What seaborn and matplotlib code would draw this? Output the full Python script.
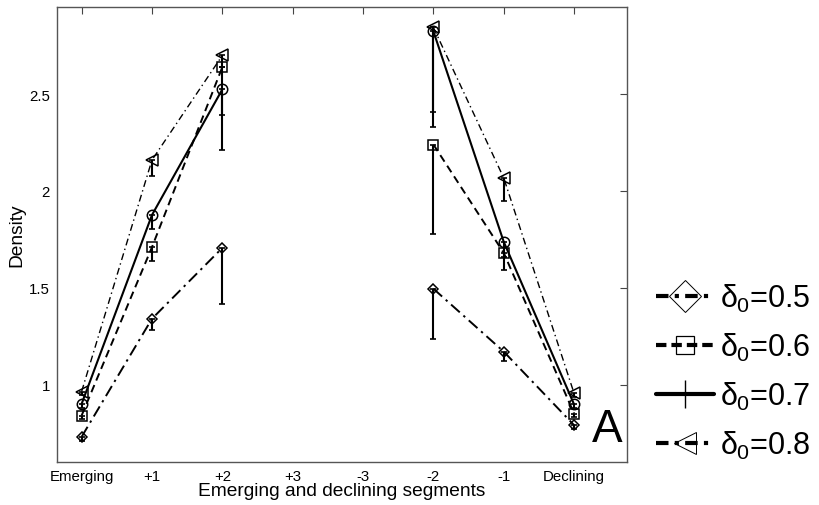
import numpy as np
import pandas as pd
import matplotlib
matplotlib.use('Agg')
import matplotlib.pyplot as plt
from matplotlib.lines import Line2D
import seaborn as sns

# data
tick_labels = ['Emerging', '+1', '+2', '+3', '-3', '-2', '-1', 'Declining']
positions = [0, 1, 2, 5, 6, 7]
segments = ['emerging', 'emerging', 'emerging', 'declining', 'declining', 'declining']

d05 = [0.73, 1.34, 1.706, 1.495, 1.17, 0.79]
d05_err = [0.02, 0.06, 0.29, 0.26, 0.05, 0.02]
d06 = [0.84, 1.71, 2.64, 2.24, 1.68, 0.85]
d06_err = [0.02, 0.07, 0.25, 0.46, 0.09, 0.02]
d07 = [0.90, 1.876, 2.525, 2.825, 1.737, 0.897]
d07_err = [0.02, 0.07, 0.315, 0.495, 0.08, 0.02]
d08 = [0.964, 2.16, 2.70, 2.845, 2.067, 0.954]
d08_err = [0.02, 0.08, 0.06, 0.435, 0.12, 0.02]

series_names = ['0.5', '0.6', '0.7', '0.8']
values = [d05, d06, d07, d08]
errors = [d05_err, d06_err, d07_err, d08_err]

sns.set_theme(style='white')
plt.rcParams['font.family'] = ['Liberation Sans', 'DejaVu Sans']
plt.rcParams['mathtext.fontset'] = 'custom'
plt.rcParams['mathtext.rm'] = 'Liberation Sans'
plt.rcParams['mathtext.it'] = 'Liberation Sans'
for k in ['text.color', 'axes.labelcolor', 'xtick.color', 'ytick.color']:
    plt.rcParams[k] = 'black'

#1 build a long table
rows = []
for name, vals in zip(series_names, values):
    for p, s, v in zip(positions, segments, vals):
        rows.append({'delta': name, 'pos': p, 'segment': s, 'density': v})
df = pd.DataFrame(rows)

styles = {
    '0.5': dict(ls=(0, (6, 2.5, 1.2, 2.5)), lw=1.4, marker='D', ms=5.5),
    '0.6': dict(ls=(0, (4, 2.5)), lw=1.4, marker='s', ms=7),
    '0.7': dict(ls='-', lw=1.5, marker='o', ms=7.5),
    '0.8': dict(ls=(0, (5, 2.5, 1, 2.5)), lw=1.0, marker='<', ms=8),
}

fig = plt.figure(figsize=(8.2, 5.06), dpi=100)
ax = fig.add_axes([0.0695, 0.085, 0.695, 0.899])

#2 lines and markers
for name, err in zip(series_names, errors):
    st = styles[name]
    sub = df[df['delta'] == name]
    sns.lineplot(data=sub, x='pos', y='density', units='segment', estimator=None,
                 color='black', linestyle=st['ls'], linewidth=st['lw'],
                 marker=st['marker'], markersize=st['ms'], markerfacecolor='none',
                 markeredgecolor='black', markeredgewidth=1.1, ax=ax, legend=False)
    ax.errorbar(sub['pos'], sub['density'], yerr=[err, np.zeros(len(err))],
                fmt='none', ecolor='black', elinewidth=1.5, capsize=2, capthick=1.2)

ax.set_xlim(-0.35, 7.75)
ax.set_ylim(0.6, 2.95)
ax.set_xticks(range(len(tick_labels)))
ax.set_xticklabels(tick_labels)
ax.set_yticks([1, 1.5, 2, 2.5])
ax.set_yticklabels(['1', '1.5', '2', '2.5'])
ax.tick_params(direction='in', length=5, width=0.8, color='#444444', labelsize=10.8,
               top=True, right=True, pad=5)
for sp in ax.spines.values():
    sp.set_color('#555555')
    sp.set_linewidth(1.0)
ax.set_xlabel('Emerging and declining segments', fontsize=13.8, labelpad=-1)
ax.set_ylabel('Density', fontsize=13.8, labelpad=3)

ax.text(0.992, 0.025, 'A', transform=ax.transAxes, ha='right', va='bottom', fontsize=33)

#3 legend outside on the right
handles = [
    Line2D([], [], color='black', ls=(0, (3, 1.5, 1, 1.5)), lw=3, marker='D', ms=16,
           markerfacecolor='none', markeredgewidth=0.7),
    Line2D([], [], color='black', ls=(0, (2.5, 1.2)), lw=3, marker='s', ms=13,
           markerfacecolor='none', markeredgewidth=0.9),
    Line2D([], [], color='black', ls='-', lw=3, marker='+', ms=20, markeredgewidth=1.0),
    Line2D([], [], color='black', ls=(0, (3, 1.5, 1, 1.5)), lw=3, marker='<', ms=16,
           markerfacecolor='none', markeredgewidth=0.7),
]
labels = [r'$\delta_0$=' + n for n in series_names]
fig.legend(handles, labels, loc='upper left', bbox_to_anchor=(0.785, 0.465),
           frameon=False, fontsize=22, handlelength=1.9, handletextpad=0.2,
           labelspacing=0.55, borderaxespad=0)

fig.savefig('out.png', dpi=100)
